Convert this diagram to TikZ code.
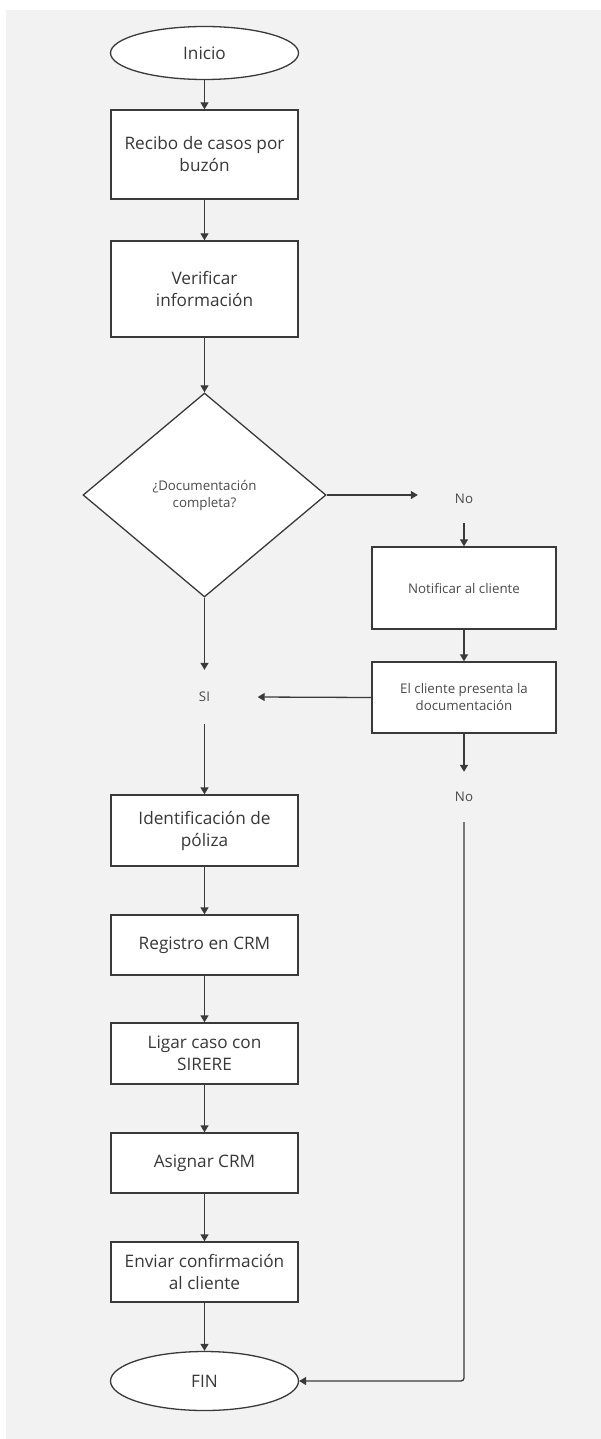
\documentclass[tikz,border=0pt]{standalone}
\usepackage{fontspec}
\setmainfont{Open Sans}
\usetikzlibrary{shapes.geometric,arrows.meta}
\definecolor{bg}{HTML}{F2F2F2}
\definecolor{ink}{HTML}{3A3A3A}
\definecolor{txt}{HTML}{383838}
\definecolor{stxt}{HTML}{4A4A4A}
\begin{document}
\begin{tikzpicture}[x=1pt,y=-1pt,
  line/.style={draw=ink,line width=1.3pt},
  arr/.style={line,-{Triangle[width=8pt,length=7pt]}},
  procbox/.style={draw=ink,line width=1.3pt,fill=white,rectangle,inner sep=0pt,
    text=txt,align=center,font=\fontsize{17.2}{22}\selectfont},
  smallbox/.style={procbox,text=stxt,font=\fontsize{13.3}{17}\selectfont},
  term/.style={draw=ink,line width=1.3pt,fill=white,ellipse,inner sep=0pt,
    text=txt,font=\fontsize{17.2}{22}\selectfont},
  decision/.style={draw=ink,line width=1.3pt,fill=white,diamond,inner sep=0pt,
    text=stxt,align=center,font=\fontsize{13.3}{17}\selectfont},
  tag/.style={inner sep=0pt,text=stxt,font=\fontsize{13.3}{17}\selectfont}]
% canvas
\useasboundingbox (0,0) rectangle (601,1439);
\fill[white] (0,0) rectangle (601,1439);
\fill[bg] (6,10) rectangle (601,1439);

% main column
\node[term,minimum width=188pt,minimum height=53pt] (inicio) at (204.5,53) {Inicio};
\node[procbox,minimum width=187pt,minimum height=89pt] (recibo) at (204.5,154.5) {Recibo de casos por\\buzón};
\node[procbox,minimum width=187pt,minimum height=96pt] (verif) at (204.5,289) {Verificar\\información};
\node[decision,minimum width=243pt,minimum height=204pt] (doc) at (204.5,495) {¿Documentación\\completa?};
\node[tag,minimum width=106pt,minimum height=54pt] (si) at (204.5,697) {SI};
\node[procbox,minimum width=187pt,minimum height=71pt] (ident) at (204.5,830.5) {Identificación de\\póliza};
\node[procbox,minimum width=187pt,minimum height=60pt] (reg) at (204.5,945) {Registro en CRM};
\node[procbox,minimum width=187pt,minimum height=61pt] (ligar) at (204.5,1053.5) {Ligar caso con\\SIRERE};
\node[procbox,minimum width=187pt,minimum height=60pt] (asig) at (204.5,1163) {Asignar CRM};
\node[procbox,minimum width=187pt,minimum height=60pt] (env) at (204.5,1272) {Enviar confirmación\\al cliente};
\node[term,minimum width=188pt,minimum height=59pt] (fin) at (204.5,1381) {FIN};

% right column
\node[tag,minimum width=92pt,minimum height=48pt] (no1) at (464,499) {No};
\node[smallbox,minimum width=184pt,minimum height=82pt] (notif) at (464,588) {Notificar al cliente};
\node[smallbox,minimum width=184pt,minimum height=71pt] (cli) at (464,697.5) {El cliente presenta la\\documentación};
\node[tag,minimum width=92pt,minimum height=50pt] (no2) at (464,797) {No};

% connectors
\draw[arr] (inicio) -- (recibo);
\draw[arr] (recibo) -- (verif);
\draw[arr] (verif) -- (doc);
\draw[arr] (doc.east) -- (doc.east -| no1.west);
\draw[arr] (no1) -- (notif);
\draw[arr] (notif) -- (cli);
\draw[arr] (cli.west) -- (si.east);
\draw[arr] (doc.south) -- (si.north);
\draw[arr] (si) -- (ident);
\draw[arr] (cli) -- (no2);
\draw[arr,rounded corners=3pt] (no2.south) |- (fin.east);
\draw[arr] (ident) -- (reg);
\draw[arr] (reg) -- (ligar);
\draw[arr] (ligar) -- (asig);
\draw[arr] (asig) -- (env);
\draw[arr] (env) -- (fin);
\end{tikzpicture}
\end{document}
